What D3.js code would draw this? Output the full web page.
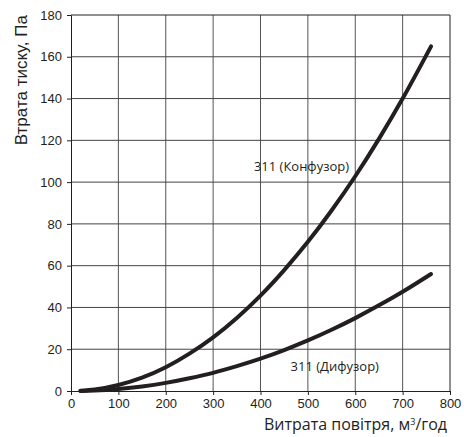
<!DOCTYPE html>
<html><head><meta charset="utf-8">
<script src="https://cdn.jsdelivr.net/npm/d3@7"></script>
<style>body{margin:0;background:#fff}</style>
</head><body>
<script>
const airflow = [20, 50, 100, 150, 200, 250, 300, 350, 400, 450, 500, 550, 600, 650, 700, 760];
const confuser = [0.1, 0.7, 2.9, 6.4, 11.4, 17.9, 25.7, 35, 45.7, 57.9, 71.4, 86.4, 102.8, 120.7, 140, 165];
const diffuser = [0.04, 0.24, 1, 2.2, 3.9, 6.1, 8.7, 11.9, 15.5, 19.6, 24.2, 29.3, 34.9, 41, 47.5, 56];
const xTicks = [0, 100, 200, 300, 400, 500, 600, 700, 800];
const yTicks = [0, 20, 40, 60, 80, 100, 120, 140, 160, 180];
const seriesLabels = ["311 (Конфузор)", "311 (Дифузор)"];

const W = 464, H = 437;
const m = {l: 71, r: 14, t: 15, b: 46};
const svg = d3.select("body").append("svg").attr("width", W).attr("height", H);
const x = d3.scaleLinear().domain([0, 800]).range([m.l, W - m.r]);
const y = d3.scaleLinear().domain([0, 180]).range([H - m.b, m.t]);

// grid
svg.append("g").selectAll("line").data(xTicks.slice(1)).join("line")
  .attr("x1", d => x(d)).attr("x2", d => x(d)).attr("y1", y(0)).attr("y2", y(180))
  .attr("stroke", d => d === 800 ? "#231f20" : "#555").attr("stroke-width", 1);
svg.append("g").selectAll("line").data(yTicks.slice(1)).join("line")
  .attr("x1", x(0)).attr("x2", x(800)).attr("y1", d => y(d)).attr("y2", d => y(d))
  .attr("stroke", d => d === 180 ? "#231f20" : "#444").attr("stroke-width", 1);

// axes
const xa = svg.append("g").attr("transform", `translate(0,${y(0)})`)
  .call(d3.axisBottom(x).tickValues(xTicks).tickSize(4).tickPadding(4));
const ya = svg.append("g").attr("transform", `translate(${x(0)},0)`)
  .call(d3.axisLeft(y).tickValues(yTicks).tickSize(4).tickPadding(5));
[xa, ya].forEach(a => {
  a.select(".domain").attr("stroke", "#231f20");
  a.selectAll(".tick line").attr("stroke", "#231f20");
  a.selectAll("text").attr("font-family", "Liberation Sans, Arial, sans-serif")
    .attr("font-size", 13).attr("fill", "#231f20");
});

// curves
const line = d3.line().x((d, i) => x(airflow[i])).y(d => y(d)).curve(d3.curveMonotoneX);
[confuser, diffuser].forEach(s => {
  svg.append("path").attr("d", line(s)).attr("fill", "none")
    .attr("stroke", "#231f20").attr("stroke-width", 4)
    .attr("stroke-linecap", "round").attr("stroke-linejoin", "round");
});

// labels
const lab = svg.append("g").attr("font-family", "Open Sans, sans-serif")
  .attr("font-size", 13).attr("fill", "#231f20");
lab.append("text").attr("x", x(587)).attr("y", y(105.5)).attr("text-anchor", "end")
  .text(seriesLabels[0]);
lab.append("text").attr("x", x(650)).attr("y", y(9.6)).attr("text-anchor", "end")
  .text(seriesLabels[1]);

// axis titles
svg.append("text").attr("transform", `translate(27,${m.t}) rotate(-90)`)
  .attr("text-anchor", "end").attr("font-family", "Liberation Sans, Arial, sans-serif")
  .attr("font-size", 17).attr("fill", "#231f20").text("Втрата тиску, Па");
const xt = svg.append("text").attr("x", 447).attr("y", 430).attr("text-anchor", "end")
  .attr("font-family", "Open Sans, sans-serif").attr("font-size", 16).attr("fill", "#231f20");
xt.append("tspan").text("Витрата повітря, м");
xt.append("tspan").attr("font-size", 9).attr("dy", -5).text("3");
xt.append("tspan").attr("dy", 5).text("/год");
</script>
</body></html>
